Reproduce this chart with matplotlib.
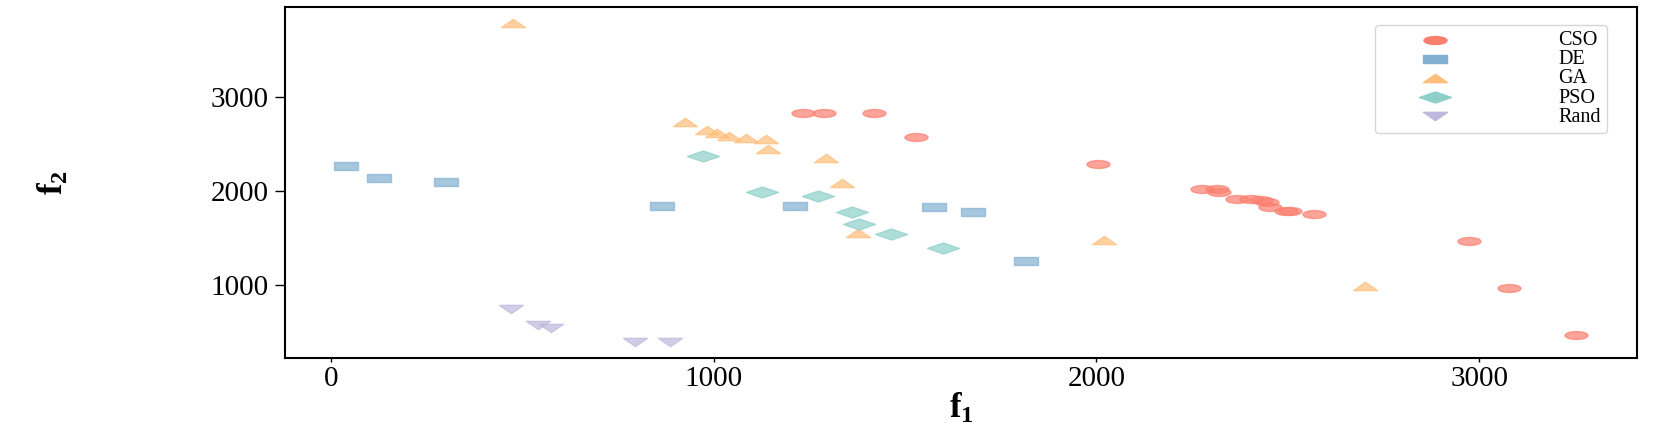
import matplotlib
matplotlib.use('Agg')
import matplotlib.pyplot as plt
from matplotlib.markers import MarkerStyle
from matplotlib.transforms import Affine2D

plt.rcParams['font.family'] = 'serif'
plt.rcParams['font.serif'] = ['Liberation Serif', 'DejaVu Serif']
plt.rcParams['mathtext.default'] = 'regular'

# objective values (f1, f2) per algorithm
cso_f1 = [1234, 1287, 1418, 1529, 2004, 2275, 2316, 2321, 2366, 2404,
          2429, 2446, 2453, 2495, 2505, 2569, 2974, 3078, 3252]
cso_f2 = [2833, 2833, 2827, 2574, 2284, 2024, 2018, 1989, 1915, 1915,
          1901, 1886, 1833, 1790, 1790, 1759, 1468, 971, 471]

de_f1 = [40, 125, 300, 865, 1213, 1575, 1677, 1817]
de_f2 = [2266, 2141, 2100, 1837, 1837, 1833, 1777, 1255]

ga_f1 = [474, 924, 982, 1008, 1040, 1083, 1136, 1142, 1294, 1334, 1376,
         2021, 2701]
ga_f2 = [3784, 2734, 2649, 2620, 2588, 2561, 2556, 2450, 2351, 2085, 1550,
         1476, 997]

pso_f1 = [973, 1126, 1272, 1360, 1379, 1464, 1599]
pso_f2 = [2369, 1989, 1944, 1777, 1652, 1546, 1390]

rand_f1 = [471, 541, 575, 795, 886]
rand_f2 = [748, 574, 550, 397, 397]

names = ['CSO', 'DE', 'GA', 'PSO', 'Rand']
colors = ['#FA7F6F', '#82B0D2', '#FFBE7A', '#8ECFC9', '#BEB8DC']


def wide(marker, k=2.9):
    # the reference is stretched sideways, so the markers are too
    ms = MarkerStyle(marker)
    p = ms.get_path().transformed(ms.get_transform())
    return p.transformed(Affine2D().scale(k, 1))


series = [
    (cso_f1, cso_f2, wide('o'), 275),
    (de_f1, de_f2, wide('s'), 300),
    (ga_f1, ga_f2, wide('^'), 300),
    (pso_f1, pso_f2, wide('D'), 530),
    (rand_f1, rand_f2, wide('v'), 300),
]

fig = plt.figure(figsize=(16.6, 4.3), dpi=100)
ax = fig.add_axes([285 / 1660, 72 / 430, 1352 / 1660, 351 / 430])

for (x, y, m, s), name, c in zip(series, names, colors):
    ax.scatter(x, y, marker=m, s=s, color=c, edgecolor=c, linewidth=1,
               alpha=0.7, label=name)

ax.set_xticks([0, 1000, 2000, 3000])
ax.set_yticks([1000, 2000, 3000])
ax.tick_params(axis='both', labelsize=21, width=1)
ax.tick_params(axis='y', length=7, pad=5)
ax.tick_params(axis='x', length=3, pad=3)
for sp in ax.spines.values():
    sp.set_linewidth(1.5)

ax.set_xlabel('f$_1$', fontsize=25, fontweight='bold')
ax.set_ylabel('f$_2$', fontsize=25, fontweight='bold')
ax.xaxis.set_label_coords(0.5, -0.095)
ax.yaxis.set_label_coords(-0.158, 0.5)

leg = ax.legend(loc='upper right', bbox_to_anchor=(0.985, 0.977),
                fontsize=14.5, handlelength=5.4, handletextpad=3.4,
                borderpad=0.3, labelspacing=0.0)
for h in leg.legend_handles:
    h.set_alpha(1)

fig.savefig('out.png', dpi=100)
